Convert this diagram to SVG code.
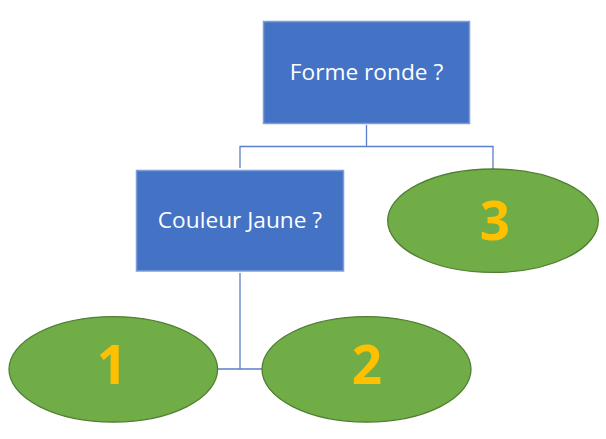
<svg xmlns="http://www.w3.org/2000/svg" width="606" height="439" viewBox="0 0 606 439">
<style>
.box{fill:#4472C4;stroke:#7F9ED8;stroke-width:1.5}
.ell{fill:#70AD47;stroke:#507E32;stroke-width:1.3}
.lbl{font-family:"Open Sans","Liberation Sans",sans-serif;font-size:22.7px;fill:#FFFFFF;text-anchor:middle}
.num{font-family:"Open Sans","Liberation Sans",sans-serif;font-weight:bold;font-size:53px;fill:#FFC000;text-anchor:middle}
.con{fill:none;stroke:#5B7FC8;stroke-width:1.3}
</style>
<rect width="606" height="439" fill="#FFFFFF"/>
<g id="connectors">
<path class="con" d="M366.5,125 V146.5 M240,168 V146.5 H493 V169"/>
<path class="con" d="M240,273 V369 M218,369 H262"/>
</g>
<g id="n-forme">
<rect class="box" x="263.5" y="21.5" width="206" height="102"/>
<text class="lbl" x="366.5" y="80">Forme ronde ?</text>
</g>
<g id="n-couleur">
<rect class="box" x="136.5" y="170.5" width="207" height="100.5"/>
<text class="lbl" x="240" y="228">Couleur Jaune ?</text>
</g>
<g id="n-3">
<ellipse class="ell" cx="493" cy="220.7" rx="105.3" ry="51.7"/>
<text class="num" x="495" y="239.5">3</text>
</g>
<g id="n-1">
<ellipse class="ell" cx="113.3" cy="369.3" rx="104.3" ry="52.7"/>
<text class="num" x="112" y="384">1</text>
</g>
<g id="n-2">
<ellipse class="ell" cx="366.5" cy="369.3" rx="104.5" ry="52.7"/>
<text class="num" x="367" y="384">2</text>
</g>
</svg>
